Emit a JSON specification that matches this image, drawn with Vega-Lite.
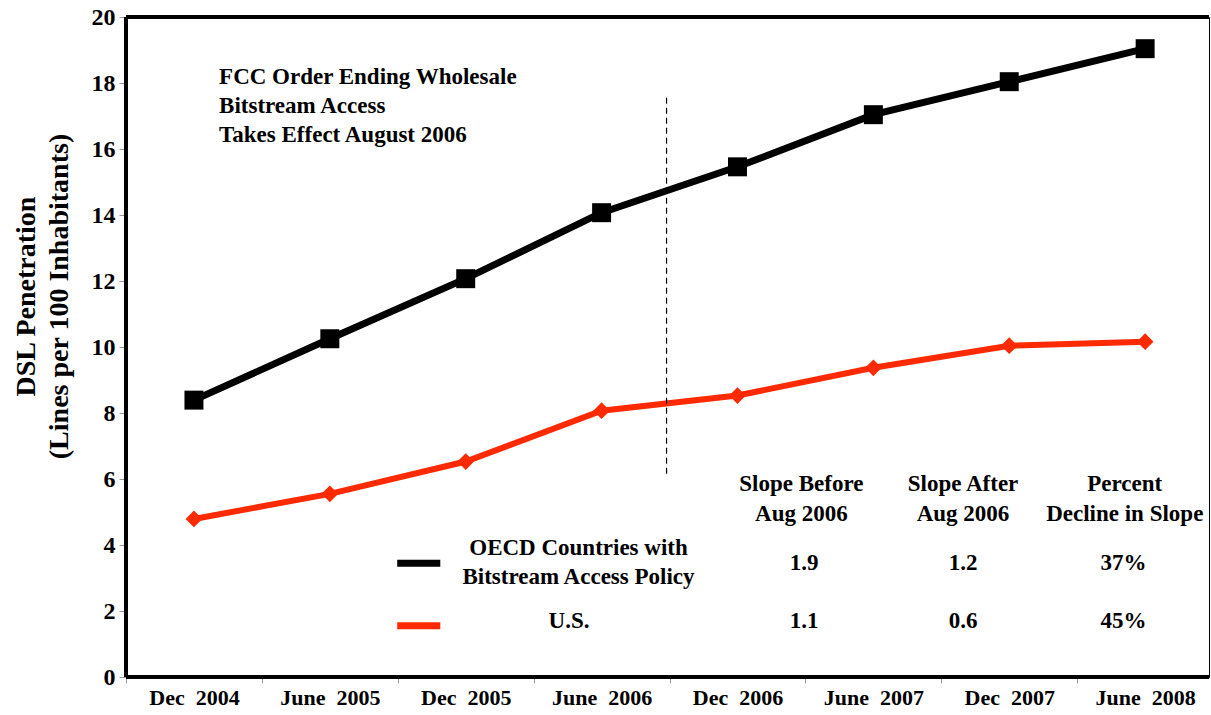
{
  "$schema": "https://vega.github.io/schema/vega-lite/v6.json",
  "autosize": "none",
  "width": 1083,
  "height": 660,
  "padding": {"left": 126, "top": 17, "right": 2, "bottom": 38},
  "background": "white",
  "config": {
    "view": {"stroke": "black", "strokeWidth": 1},
    "font": "Liberation Serif",
    "text": {"font": "Liberation Serif", "fontWeight": "bold", "fontSize": 23, "color": "black"},
    "axis": {
      "labelFont": "Liberation Serif",
      "labelFontWeight": "bold",
      "labelColor": "black",
      "titleFont": "Liberation Serif",
      "titleFontWeight": "bold",
      "titleColor": "black",
      "domain": false,
      "tickColor": "#999999",
      "tickWidth": 1,
      "grid": false
    },
    "axisX": {"labelFontSize": 22, "tickSize": 6, "labelPadding": 4},
    "axisY": {"labelFontSize": 24, "tickSize": 7, "labelPadding": 4, "titleFontSize": 28}
  },
  "datasets": {
    "series": [
      {"x": 0, "series": "OECD", "y": 8.39},
      {"x": 1, "series": "OECD", "y": 10.25},
      {"x": 2, "series": "OECD", "y": 12.07},
      {"x": 3, "series": "OECD", "y": 14.07},
      {"x": 4, "series": "OECD", "y": 15.46},
      {"x": 5, "series": "OECD", "y": 17.04},
      {"x": 6, "series": "OECD", "y": 18.04},
      {"x": 7, "series": "OECD", "y": 19.04},
      {"x": 0, "series": "US", "y": 4.79},
      {"x": 1, "series": "US", "y": 5.55},
      {"x": 2, "series": "US", "y": 6.53},
      {"x": 3, "series": "US", "y": 8.07},
      {"x": 4, "series": "US", "y": 8.53},
      {"x": 5, "series": "US", "y": 9.37},
      {"x": 6, "series": "US", "y": 10.04},
      {"x": 7, "series": "US", "y": 10.16}
    ],
    "hframe": [
      {"x": -0.5, "x2": 7.47, "y": 20},
      {"x": -0.5, "x2": 7.47, "y": 0}
    ],
    "vframe": [{"x": -0.5, "y": 0, "y2": 20}],
    "divider": [{"x": 3.478, "y": 17.55, "y2": 6.09}],
    "legend": [
      {"x": 1.496, "x2": 1.813, "y": 3.45, "series": "OECD"},
      {"x": 1.496, "x2": 1.813, "y": 1.55, "series": "US"}
    ],
    "note": [
      {"x": 0.185, "y": 18.18, "label": "FCC Order Ending Wholesale"},
      {"x": 0.185, "y": 17.3, "label": "Bitstream Access"},
      {"x": 0.185, "y": 16.42, "label": "Takes Effect August 2006"}
    ],
    "table": [
      {"x": 4.47, "y": 5.85, "label": "Slope Before"},
      {"x": 4.47, "y": 4.94, "label": "Aug 2006"},
      {"x": 5.66, "y": 5.85, "label": "Slope After"},
      {"x": 5.66, "y": 4.94, "label": "Aug 2006"},
      {"x": 6.85, "y": 5.85, "label": "Percent"},
      {"x": 6.85, "y": 4.94, "label": "Decline in Slope"},
      {"x": 2.83, "y": 3.91, "label": "OECD Countries with"},
      {"x": 2.83, "y": 3.03, "label": "Bitstream Access Policy"},
      {"x": 2.76, "y": 1.7, "label": "U.S."},
      {"x": 4.49, "y": 3.45, "label": "1.9"},
      {"x": 5.66, "y": 3.45, "label": "1.2"},
      {"x": 6.84, "y": 3.45, "label": "37%"},
      {"x": 4.49, "y": 1.7, "label": "1.1"},
      {"x": 5.66, "y": 1.7, "label": "0.6"},
      {"x": 6.84, "y": 1.7, "label": "45%"}
    ]
  },
  "encoding": {
    "x": {
      "field": "x", "type": "quantitative",
      "scale": {"domain": [-0.5, 7.47], "nice": false, "zero": false},
      "axis": {
        "title": null,
        "values": [-0.5, 0.5, 1.5, 2.5, 3.5, 4.5, 5.5, 6.5],
        "labelExpr": "['Dec\u00a0 2004','June\u00a0 2005','Dec\u00a0 2005','June\u00a0 2006','Dec\u00a0 2006','June\u00a0 2007','Dec\u00a0 2007','June\u00a0 2008'][round(datum.value + 0.5)]",
        "labelOffset": 68,
        "labelAlign": "center",
        "labelOverlap": false,
        "labelFlush": false,
        "labelBound": false
      }
    },
    "y": {
      "field": "y", "type": "quantitative",
      "scale": {"domain": [0, 20], "nice": false},
      "axis": {
        "title": ["DSL Penetration", "(Lines per 100 Inhabitants)"],
        "titleX": -114,
        "titleY": 279,
        "titleAngle": -90,
        "titleAlign": "center",
        "titleBaseline": "top",
        "titleLineHeight": 33,
        "values": [0, 2, 4, 6, 8, 10, 12, 14, 16, 18, 20]
      }
    }
  },
  "layer": [
    {
      "data": {"name": "hframe"},
      "mark": {"type": "rule", "color": "black", "strokeWidth": 4},
      "encoding": {"x2": {"field": "x2"}}
    },
    {
      "data": {"name": "vframe"},
      "mark": {"type": "rule", "color": "black", "strokeWidth": 4},
      "encoding": {"y2": {"field": "y2"}}
    },
    {
      "data": {"name": "series"},
      "transform": [{"filter": "datum.series === 'OECD'"}],
      "mark": {"type": "line", "color": "black", "strokeWidth": 7}
    },
    {
      "data": {"name": "series"},
      "transform": [{"filter": "datum.series === 'OECD'"}],
      "mark": {"type": "point", "shape": "square", "filled": true, "color": "black", "size": 360, "opacity": 1}
    },
    {
      "data": {"name": "series"},
      "transform": [{"filter": "datum.series === 'US'"}],
      "mark": {"type": "line", "color": "#ff2a00", "strokeWidth": 6}
    },
    {
      "data": {"name": "series"},
      "transform": [{"filter": "datum.series === 'US'"}],
      "mark": {"type": "point", "shape": "diamond", "filled": true, "color": "#ff2a00", "size": 280, "opacity": 1}
    },
    {
      "data": {"name": "divider"},
      "mark": {"type": "rule", "color": "black", "strokeWidth": 1.2, "strokeDash": [6, 4]},
      "encoding": {"y2": {"field": "y2"}}
    },
    {
      "data": {"name": "legend"},
      "mark": {"type": "rule", "strokeWidth": 7},
      "encoding": {
        "x2": {"field": "x2"},
        "color": {"field": "series", "type": "nominal", "scale": {"domain": ["OECD", "US"], "range": ["black", "#ff2a00"]}, "legend": null}
      }
    },
    {
      "data": {"name": "note"},
      "mark": {"type": "text", "align": "left", "baseline": "middle"},
      "encoding": {"text": {"field": "label"}}
    },
    {
      "data": {"name": "table"},
      "mark": {"type": "text", "align": "center", "baseline": "middle"},
      "encoding": {"text": {"field": "label"}}
    }
  ]
}
